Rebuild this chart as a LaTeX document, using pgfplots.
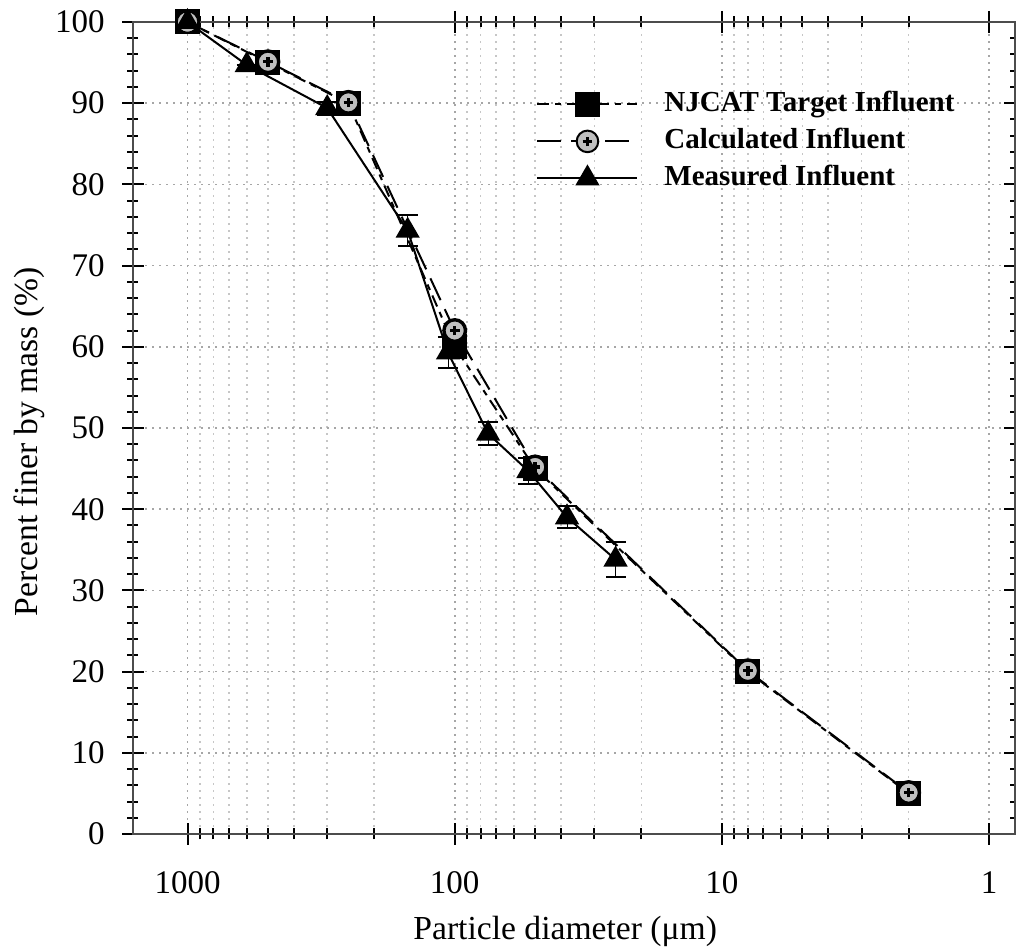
\documentclass[border=0pt]{standalone}
\usepackage{pgfplots}
\usepackage{pgfplotstable}
\pgfplotsset{compat=1.18}
\usepackage{fontspec}
\setmainfont{Liberation Serif}

\pgfdeclareplotmark{cplus}{%
  \pgfpathcircle{\pgfpointorigin}{\pgfplotmarksize}%
  \pgfusepathqfillstroke
  \pgfsetlinewidth{1.7pt}%
  \pgfsetbuttcap
  \pgfpathmoveto{\pgfpoint{-0.45\pgfplotmarksize}{0pt}}%
  \pgfpathlineto{\pgfpoint{0.45\pgfplotmarksize}{0pt}}%
  \pgfpathmoveto{\pgfpoint{0pt}{-0.45\pgfplotmarksize}}%
  \pgfpathlineto{\pgfpoint{0pt}{0.45\pgfplotmarksize}}%
  \pgfusepathqstroke
}

\pgfplotstableread{
x y
1000 100
500 95
250 90
100 60
50 45
8 20
2 5
}\target

\pgfplotstableread{
x y
1000 100
500 95.1
250 90.1
100 62
50 45.2
8 20.1
2 5.1
}\calc

\pgfplotstableread{
x y e
1000 100 0
600 94.7 0
300 89.4 0.8
150 74.3 1.9
106 59.3 1.9
75 49.3 1.4
53 44.7 1.6
38 39.0 1.35
25 33.8 2.2
}\meas

\begin{document}
\begin{tikzpicture}
\path[use as bounding box] (-66.5pt,-58.5pt) rectangle (441.5pt,417pt);
\begin{axis}[
  at={(0,0)}, anchor=south west,
  scale only axis, width=441pt, height=406pt,
  xmode=log, x dir=reverse, xmin=0.8, xmax=1600,
  ymin=0, ymax=100,
  clip=false,
  xtick={1,10,100,1000}, xticklabels={1,10,100,1000},
  ytick={0,10,...,100}, minor y tick num=4,
  tick align=center, major tick length=11pt, minor tick length=5.5pt,
  tick style={black, line width=1pt},
  axis line style={black!70, line width=1pt},
  xmajorgrids, xminorgrids, ymajorgrids,
  major grid style={gray!70, line width=0.8pt, dash pattern=on 0.8pt off 2.7pt},
  minor grid style={gray!45, line width=0.8pt, dash pattern=on 0.8pt off 2.7pt},
  ticklabel style={font=\fontsize{16.5}{19}\selectfont, inner sep=0pt},
  yticklabel style={anchor=east, xshift=-8.5pt},
  xticklabel style={anchor=north, yshift=-13pt},
  /pgf/number format/assume math mode=true,
  xlabel={Particle diameter (μm)},
  ylabel={Percent finer by mass (\%)},
  every axis x label/.style={at={(axis description cs:0.49,0)}, anchor=base, yshift=-53pt, font=\fontsize{16.8}{19}\selectfont},
  every axis y label/.style={at={(axis description cs:0,0.483)}, rotate=90, anchor=base, yshift=47.5pt, font=\fontsize{16.8}{19}\selectfont},
  legend cell align=left,
  legend style={at={(axis description cs:0.457,0.915)}, anchor=north west, draw=none, fill=none,
    inner sep=0pt, font=\fontsize{14.5}{17}\bfseries\selectfont,
    nodes={inner sep=0pt, text height=10pt, text depth=3pt}, row sep=5.5pt},
  legend image code/.code={\draw[mark repeat=2,mark phase=2,#1] plot coordinates {(0pt,0pt) (25pt,0pt) (50pt,0pt)}; \path (63pt,0pt);},
]
\addplot[black, line width=1pt, dash pattern=on 6pt off 3pt on 3pt off 3pt,
  mark=square*, mark size=5.75pt, mark options={solid, fill=black}] table[x=x,y=y] {\target};
\addlegendentry{NJCAT Target Influent}
\addplot[black, line width=1pt, dash pattern=on 12pt off 5pt,
  mark=cplus, mark size=5.4pt, mark options={solid, fill=black!25, line width=1pt}] table[x=x,y=y] {\calc};
\addlegendentry{Calculated Influent}
\addplot[black, line width=1pt, mark=triangle*, mark size=6pt, mark options={solid, fill=black},
  error bars/.cd, y dir=both, y explicit, error mark options={rotate=90, mark size=5pt, line width=1pt, black}]
  table[x=x,y=y,y error=e] {\meas};
\addlegendentry{Measured Influent}
\end{axis}
\end{tikzpicture}
\end{document}
